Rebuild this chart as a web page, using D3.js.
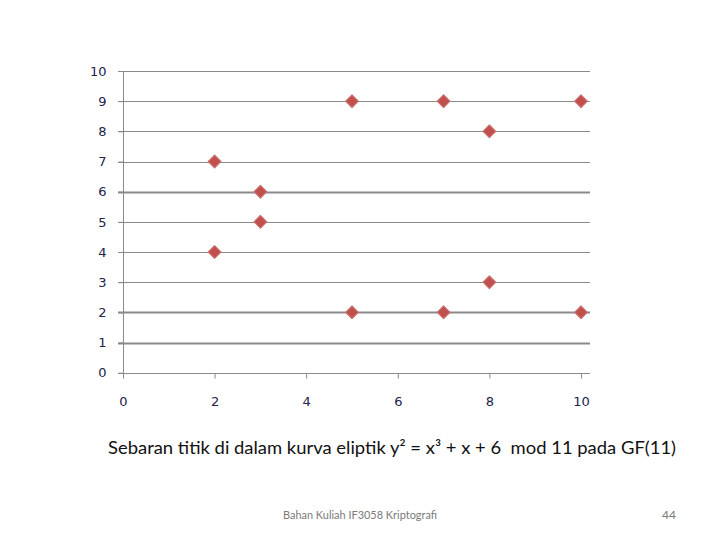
<!DOCTYPE html>
<html><head><meta charset="utf-8">
<script src="https://cdn.jsdelivr.net/npm/d3@7"></script>
<style>body{margin:0;background:#fff}svg{display:block}</style>
</head><body><svg id="c" width="720" height="540"></svg>
<script>
const xValues = [2, 2, 3, 3, 5, 5, 7, 7, 8, 8, 10, 10];
const yValues = [7, 4, 6, 5, 9, 2, 9, 2, 8, 3, 9, 2];
const xTicks = [0, 2, 4, 6, 8, 10];
const yTicks = [0, 1, 2, 3, 4, 5, 6, 7, 8, 9, 10];
const captionText = "Sebaran titik di dalam kurva eliptik y² = x³ + x + 6  mod 11 pada GF(11)";
const footerText = "Bahan Kuliah IF3058 Kriptografi";
const pageNumber = "44";

const svg = d3.select("#c");
const x = d3.scaleLinear().domain([0, 10]).range([123, 581]);
const y = d3.scaleLinear().domain([0, 10]).range([372.7, 71]);
const gridRight = 590;
const thick = new Set([6, 2, 1]);

// gridlines
svg.append("g").selectAll("line").data(yTicks.filter(d => d > 0)).join("line")
  .attr("x1", 118).attr("x2", gridRight)
  .attr("y1", d => Math.round(y(d)) + 0.5).attr("y2", d => Math.round(y(d)) + 0.5)
  .attr("stroke", "#8a8a8a").attr("stroke-width", d => thick.has(d) ? 2 : 1);

// y axis
const yAxis = svg.append("g").attr("transform", "translate(123.5,0)")
  .call(d3.axisLeft(y).tickValues(yTicks).tickSize(5).tickPadding(12).tickFormat(d3.format("d")));
yAxis.select(".domain").attr("stroke", "#8a8a8a").attr("d", `M0,${y(10)}V${y(0)}`);
yAxis.selectAll(".tick line").attr("stroke", "#8a8a8a");
yAxis.selectAll("text").attr("fill", "#22224a").style("font-family", "DejaVu Sans, Verdana, sans-serif").style("font-size", "13px");

// x axis
const xAxis = svg.append("g").attr("transform", `translate(0,${Math.round(y(0)) + 0.5})`)
  .call(d3.axisBottom(x).tickValues(xTicks).tickSize(5).tickPadding(18).tickFormat(d3.format("d")));
xAxis.select(".domain").attr("stroke", "#8a8a8a").attr("d", `M118,0H${gridRight}`);
xAxis.selectAll(".tick line").attr("stroke", "#8a8a8a");
xAxis.selectAll("text").attr("fill", "#22224a").style("font-family", "DejaVu Sans, Verdana, sans-serif").style("font-size", "13px");

// points
const diamond = d3.symbol().type(d3.symbolSquare).size(80);
svg.append("g").selectAll("path").data(xValues.map((v, i) => [v, yValues[i]])).join("path")
  .attr("d", diamond)
  .attr("transform", d => `translate(${x(d[0])},${y(d[1])}) rotate(45)`)
  .attr("fill", "#c0504d").attr("stroke", "#cc6e6b").attr("stroke-width", 1.2)
  .attr("stroke-linejoin", "round");

// caption
svg.append("text").attr("x", 108).attr("y", 454)
  .attr("textLength", 568).attr("lengthAdjust", "spacingAndGlyphs")
  .style("white-space", "pre")
  .style("font-family", "Lato, 'Open Sans', sans-serif").style("font-size", "17.5px").attr("fill", "#111")
  .text(captionText);

// footer
svg.append("text").attr("x", 360).attr("y", 519).attr("text-anchor", "middle")
  .attr("textLength", 154).attr("lengthAdjust", "spacingAndGlyphs")
  .style("font-family", "Lato, 'Open Sans', sans-serif").style("font-size", "11.5px").attr("fill", "#7a7a7a")
  .text(footerText);
svg.append("text").attr("x", 676).attr("y", 519).attr("text-anchor", "end")
  .style("font-family", "Lato, 'Open Sans', sans-serif").style("font-size", "12px").attr("fill", "#7a7a7a")
  .text(pageNumber);
</script></body></html>
